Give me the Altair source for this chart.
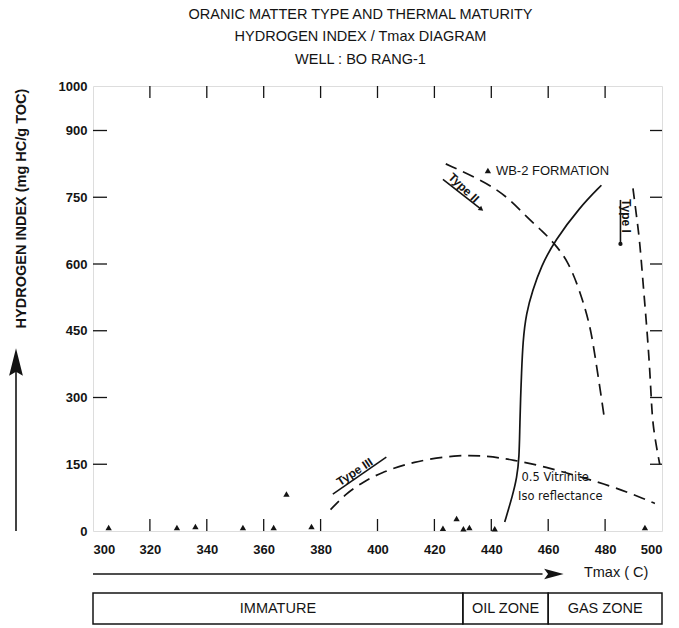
import altair as alt
import pandas as pd

# ---------------------------------------------------------------------------
# Data: Tmax (deg C) vs hydrogen index (mg HC/g TOC), well BO RANG-1
# ---------------------------------------------------------------------------
sample_tmax = [305.5, 329.5, 336.0, 352.7, 363.5, 368.0, 376.8, 423.0, 427.8, 430.2, 432.3, 441.2, 494.0]
sample_hi = [8, 8, 10, 8, 8, 83, 10, 6, 28, 5, 8, 5, 8]

wb2_tmax = [438.8]
wb2_hi = [810]
wb2_label = ["WB-2 FORMATION"]

# Kerogen evolution paths
type1_tmax = [489.8, 491.0, 492.2, 493.3, 494.5, 495.6, 496.2, 496.8, 499.2]
type1_hi = [770, 710, 650, 560, 470, 375, 300, 232, 150]

type2_tmax = [424.0, 437.0, 445.4, 452.8, 458.0, 462.3, 466.9, 470.5, 473.0, 475.1, 476.9, 478.7, 479.8]
type2_hi = [825, 787, 753, 703, 674, 645, 607, 550, 500, 449, 375, 300, 251]

type3_tmax = [383.5, 389.0, 395.0, 400.7, 412.4, 427.7, 438.2, 447.6, 459.3, 471.0, 482.7, 494.6, 497.5]
type3_hi = [48, 85, 110, 130, 156, 171, 169, 160, 144, 122, 100, 70, 62]

# 0.5 % vitrinite iso-reflectance line
iso_tmax = [478.7, 471.0, 462.3, 457.5, 454.5, 452.3, 451.1, 450.6, 450.3, 450.0, 449.8, 449.0, 447.5, 444.7]
iso_hi = [777, 727, 652, 595, 540, 490, 427, 350, 300, 230, 165, 120, 80, 20]

# Curve labels
type_label_text = ["Type II", "Type I", "Type III"]
type_label_tmax = [430.3, 487.2, 392.0]
type_label_hi = [771, 708, 133]
type_label_angle = [44, 90, 327]

# Underline pointers beneath the curve labels
pointer_tmax = [423.0, 485.4, 384.3]
pointer_tmax2 = [436.5, 485.4, 403.1]
pointer_hi = [790, 744, 83]
pointer_hi2 = [723, 645, 166]

iso_label_text = ["0.5 Vitrinite", "Iso reflectance"]
iso_label_tmax = [450.6, 449.4]
iso_label_hi = [119, 77]

# Axis ticks
x_tick_values = list(range(300, 501, 20))
y_tick_values = [0, 150, 300, 450, 600, 750, 900, 1000]
inner_x_ticks = list(range(320, 481, 20))
inner_y_ticks = [150, 300, 450, 600, 750, 900]

# Maturity zones along Tmax
zone_name = ["IMMATURE", "OIL ZONE", "GAS ZONE"]
zone_start = [300, 430, 460]
zone_end = [430, 460, 500]

title_lines = [
    "ORANIC MATTER TYPE AND THERMAL MATURITY",
    "HYDROGEN INDEX / Tmax DIAGRAM",
    "WELL : BO RANG-1",
]

# ---------------------------------------------------------------------------
W, H = 569, 445
FONT = "Liberation Sans"
INK = "#141414"

X_SCALE = alt.Scale(domain=[300, 500], nice=False, zero=False)
Y_SCALE = alt.Scale(domain=[0, 1000], nice=False, zero=False)
X_AXIS = alt.Axis(values=x_tick_values, ticks=False, tickSize=0, domain=False, grid=False,
                  labelPadding=12, labelFontSize=13, labelFont=FONT, labelColor=INK,
                  labelFontWeight="bold", format="d", title=None)
Y_AXIS = alt.Axis(values=y_tick_values, ticks=False, tickSize=0, domain=False, grid=False,
                  labelPadding=6, labelFontSize=13, labelFont=FONT, labelColor=INK,
                  labelFontWeight="bold", format="d", title="HYDROGEN INDEX (mg HC/g TOC)",
                  titleFont=FONT, titleFontSize=14.5, titleFontWeight="bold", titleColor=INK,
                  titleAngle=270, titleX=-72, titleY=122, titleAlign="center",
                  titleBaseline="middle")


def X(field):
    return alt.X(field, type="quantitative", scale=X_SCALE, axis=X_AXIS)


def Y(field):
    return alt.Y(field, type="quantitative", scale=Y_SCALE, axis=Y_AXIS)


def curve(tmax, hi, dash=None):
    df = pd.DataFrame({"tmax": tmax, "hi": hi, "i": range(len(tmax))})
    kw = dict(color=INK, strokeWidth=1.7, interpolate="basis")
    if dash:
        kw["strokeDash"] = dash
    return alt.Chart(df).mark_line(**kw).encode(
        x=X("tmax"), y=Y("hi"), order=alt.Order("i:Q"))


# Inner tick marks on the four sides of the frame
top_ticks = alt.Chart(pd.DataFrame({"t": inner_x_ticks})).mark_rule(color=INK, strokeWidth=1.3).encode(
    x=X("t"), y=alt.value(0), y2=alt.value(12))
bottom_ticks = alt.Chart(pd.DataFrame({"t": inner_x_ticks})).mark_rule(color=INK, strokeWidth=1.3).encode(
    x=X("t"), y=alt.value(H), y2=alt.value(H - 12))
left_ticks = alt.Chart(pd.DataFrame({"v": inner_y_ticks})).mark_rule(color=INK, strokeWidth=1.3).encode(
    y=Y("v"), x=alt.value(0), x2=alt.value(14))
right_ticks = alt.Chart(pd.DataFrame({"v": inner_y_ticks})).mark_rule(color=INK, strokeWidth=1.3).encode(
    y=Y("v"), x=alt.value(W), x2=alt.value(W - 12))

type1 = curve(type1_tmax, type1_hi, [11, 7])
type2 = curve(type2_tmax, type2_hi, [12, 7])
type3 = curve(type3_tmax, type3_hi, [12, 7])
iso = curve(iso_tmax, iso_hi)

samples = alt.Chart(pd.DataFrame({"tmax": sample_tmax, "hi": sample_hi})).mark_point(
    shape="triangle-up", filled=True, color=INK, opacity=1, size=40).encode(x=X("tmax"), y=Y("hi"))

wb2_df = pd.DataFrame({"tmax": wb2_tmax, "hi": wb2_hi, "label": wb2_label})
wb2_point = alt.Chart(wb2_df).mark_point(
    shape="triangle-up", filled=True, color=INK, opacity=1, size=40).encode(x=X("tmax"), y=Y("hi"))
wb2_text = alt.Chart(wb2_df).mark_text(
    align="left", baseline="middle", dx=8, font=FONT, fontSize=13, color=INK).encode(
    x=X("tmax"), y=Y("hi"), text="label:N")

labels_df = pd.DataFrame({"tmax": type_label_tmax, "hi": type_label_hi,
                          "label": type_label_text, "angle": type_label_angle})
type_labels = alt.Chart(labels_df).mark_text(
    align="center", baseline="middle", font=FONT, fontSize=12, fontWeight="bold", color=INK).encode(
    x=X("tmax"), y=Y("hi"), text="label:N", angle=alt.Angle("angle:Q", scale=None))

pointer_df = pd.DataFrame({"t": pointer_tmax, "t2": pointer_tmax2, "h": pointer_hi, "h2": pointer_hi2})
pointers = alt.Chart(pointer_df).mark_rule(color=INK, strokeWidth=1.6).encode(
    x=X("t"), x2="t2", y=Y("h"), y2="h2")

type2_head = alt.Chart(pd.DataFrame({"t": [pointer_tmax2[0]], "h": [pointer_hi2[0]]})).mark_point(
    shape="triangle-right", filled=True, color=INK, opacity=1, size=30, angle=38).encode(
    x=X("t"), y=Y("h"))
type1_head = alt.Chart(pd.DataFrame({"t": [pointer_tmax2[1]], "h": [pointer_hi2[1]]})).mark_point(
    shape="circle", filled=True, color=INK, opacity=1, size=18).encode(x=X("t"), y=Y("h"))

iso_labels = alt.Chart(pd.DataFrame({"tmax": iso_label_tmax, "hi": iso_label_hi,
                                     "label": iso_label_text})).mark_text(
    align="left", baseline="middle", font="DejaVu Sans", fontSize=11.5, color=INK).encode(
    x=X("tmax"), y=Y("hi"), text="label:N")

# Maturity strip and Tmax arrow below the plot
zones_df = pd.DataFrame({"name": zone_name, "start": zone_start, "end": zone_end})
zones_df["mid"] = (zones_df["start"] + zones_df["end"]) / 2
zone_boxes = alt.Chart(zones_df).mark_rect(filled=False, stroke=INK, strokeWidth=1.5).encode(
    x=X("start"), x2="end", y=alt.value(H + 62), y2=alt.value(H + 93))
zone_text = alt.Chart(zones_df).mark_text(
    font=FONT, fontSize=14.5, color=INK, baseline="middle").encode(
    x=X("mid"), y=alt.value(H + 78), text="name:N")

arrow_df = pd.DataFrame({"start": [300], "end": [458], "head": [462], "label": ["Tmax ( C)"]})
tmax_line = alt.Chart(arrow_df).mark_rule(color=INK, strokeWidth=1.6).encode(
    x=X("start"), x2="end", y=alt.value(H + 43))
tmax_head = alt.Chart(arrow_df).mark_point(
    shape="M1,0L-1,-0.55L-0.6,0L-1,0.55Z", filled=True, color=INK, opacity=1, size=380).encode(
    x=X("head"), y=alt.value(H + 43))
tmax_text = alt.Chart(arrow_df).mark_text(
    align="left", baseline="middle", font=FONT, fontSize=14.5, color=INK, dx=30).encode(
    x=X("head"), y=alt.value(H + 42), text="label:N")

# Upward arrow beside the hydrogen index title
hi_arrow_df = pd.DataFrame({"k": [0]})
hi_line = alt.Chart(hi_arrow_df).mark_rule(color=INK, strokeWidth=1.6).encode(
    x=alt.value(-77), y=alt.value(H), y2=alt.value(280))
hi_head = alt.Chart(hi_arrow_df).mark_point(
    shape="M0,-1L0.5,1L0,0.7L-0.5,1Z", filled=True, color=INK, opacity=1, size=760).encode(
    x=alt.value(-77), y=alt.value(276))

chart = alt.layer(
    top_ticks, bottom_ticks, left_ticks, right_ticks,
    type1, type2, type3, iso,
    samples, wb2_point, wb2_text,
    type_labels, pointers, type2_head, type1_head, iso_labels,
    zone_boxes, zone_text, tmax_line, tmax_head, tmax_text,
    hi_line, hi_head,
).properties(
    width=W,
    height=H,
    autosize=alt.AutoSizeParams(type="none"),
    padding={"left": 93, "top": 86, "right": 17, "bottom": 97},
    title=alt.TitleParams(
        text=title_lines, font=FONT, fontSize=14.5, fontWeight="normal", color=INK,
        lineHeight=22.5, anchor="middle", baseline="bottom", offset=18, dx=-17, dy=19),
).configure_view(
    stroke=INK, strokeWidth=1.6
).configure(
    background="white"
)

chart.save("out.html", embed_options={"renderer": "svg", "actions": False})
